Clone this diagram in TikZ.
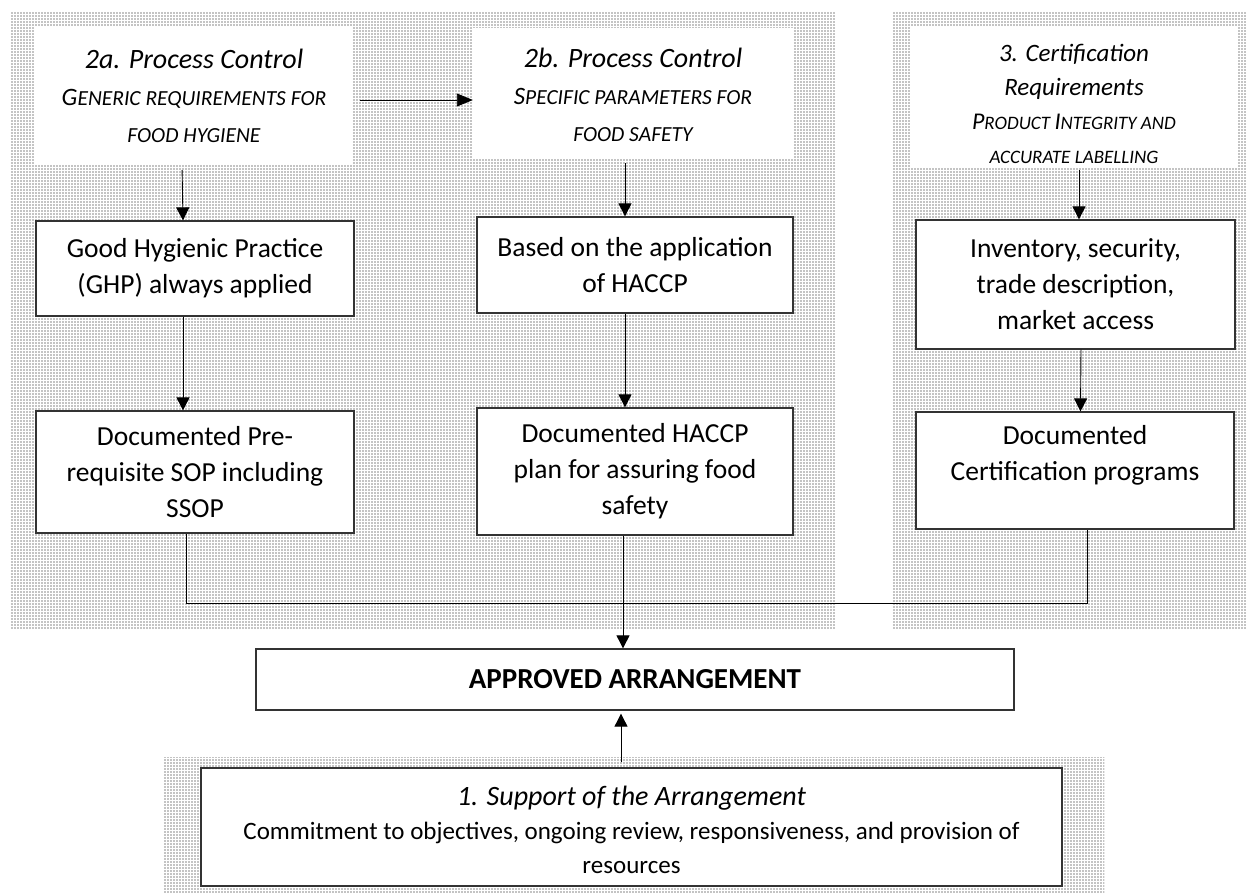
\documentclass[tikz,border=0pt]{standalone}
\usepackage{fontspec}
\setmainfont{Carlito}
\usetikzlibrary{arrows.meta,patterns.meta}
\pgfdeclarepattern{
  name=mydots, type=uncolored,
  bottom left={\pgfpoint{-1.5pt}{-1.5pt}}, top right={\pgfpoint{1.5pt}{1.5pt}},
  tile size={\pgfpoint{3pt}{3pt}},
  code={\pgfpathcircle{\pgfpointorigin}{0.65pt}\pgfusepath{fill}}
}
\newcommand{\hdA}{\fontsize{28}{37}\selectfont}
\newcommand{\scA}{\fontsize{25}{37}\selectfont}
\newcommand{\scB}{\fontsize{21.5}{37}\selectfont}
\newcommand{\hdC}{\fontsize{25}{34}\selectfont}
\newcommand{\scC}{\fontsize{24}{34}\selectfont}
\newcommand{\scD}{\fontsize{19}{34}\selectfont}
\tikzset{
  panel/.style={pattern=mydots, pattern color=black},
  hdr/.style={fill=white, inner sep=0pt, align=center, font=\itshape\hdA},
  box/.style={draw=black!80, line width=1.3pt, fill=white, inner sep=0pt, align=center,
    font=\fontsize{27.5}{36}\selectfont},
  arr/.style={-{Triangle[length=13pt,width=13pt]}, line width=0.9pt},
  bus/.style={line width=0.9pt}
}
\begin{document}
\begin{tikzpicture}[x=1pt,y=-1pt]
\useasboundingbox (0,0) rectangle (1251,895);
\fill[white] (0,0) rectangle (1251,895);
% dotted panels
\fill[panel] (10,12) rectangle (836,628);
\fill[panel] (892,12) rectangle (1246,628);
\fill[panel] (163,757) rectangle (1104,893);

% headers
\node[hdr, minimum width=318pt, minimum height=138pt] (h2a) at (194,96)
  {2a. Process Control\\{\scA G}{\scB ENERIC REQUIREMENTS FOR}\\{\scB FOOD HYGIENE}};
\node[hdr, minimum width=320pt, minimum height=130pt] (h2b) at (633,93)
  {\rule{0pt}{24pt}2b. Process Control\\{\scA S}{\scB PECIFIC PARAMETERS FOR}\\{\scB FOOD SAFETY}};
\node[hdr, minimum width=328pt, minimum height=140pt, font=\itshape\hdC] (h3) at (1074,97)
  {\rule{0pt}{31pt}3. Certification\\Requirements\\{\scC P}{\scD RODUCT }{\scC I}{\scD NTEGRITY AND}\\{\scD ACCURATE LABELLING}};

% boxes
\node[box, minimum width=318pt, minimum height=95pt] (ghp) at (195,268.5)
  {Good Hygienic Practice\\(GHP) always applied};
\node[box, minimum width=318pt, minimum height=122pt] (docpre) at (195,472)
  {Documented Pre-\\requisite SOP including\\SSOP};
\node[box, minimum width=316pt, minimum height=96pt] (haccp) at (635,265)
  {Based on the application\\of HACCP};
\node[box, minimum width=316pt, minimum height=127pt] (dochaccp) at (635,471.5)
  {Documented HACCP\\plan for assuring food\\safety};
\node[box, minimum width=319pt, minimum height=129pt] (inv) at (1075.5,284.5)
  {Inventory, security,\\trade description,\\market access};
\node[box, minimum width=318pt, minimum height=117pt] (doccert) at (1075,470.5)
  {Documented\\Certification programs\\\mbox{}};
\node[box, minimum width=758pt, minimum height=61pt,
  font=\bfseries\fontsize{29}{32}\selectfont] (appr) at (635,679.5)
  {APPROVED ARRANGEMENT};
\node[box, minimum width=861pt, minimum height=118pt,
  font=\fontsize{25}{34}\selectfont] (supp) at (631.5,827)
  {\rule{0pt}{26pt}{\itshape\fontsize{28}{34}\selectfont 1. Support of the Arrangement}\\Commitment to objectives, ongoing review, responsiveness, and provision of\\resources};

% arrows
\draw[arr, shorten <=5pt] ([xshift=-12pt]h2a.south) -- ([xshift=-12pt]ghp.north);
\draw[arr] ([xshift=-12pt]ghp.south) -- ([xshift=-12pt]docpre.north);
\draw[arr, shorten <=7pt, -{Triangle[length=16pt,width=13pt]}] ([yshift=-4pt]h2a.east) -- ([yshift=-4pt]h2a.east -| h2b.west);
\draw[arr, shorten <=5pt] ([xshift=-8pt]h2b.south) -- ([xshift=-8pt]h2b.south |- haccp.north);
\draw[arr] ([xshift=-10pt]haccp.south) -- ([xshift=-10pt]dochaccp.north);
\draw[arr] ([xshift=-12pt]dochaccp.south) -- ([xshift=-12pt]dochaccp.south |- appr.north);
\draw[arr, shorten <=3pt] ([xshift=5pt]h3.south) -- ([xshift=5pt]h3.south |- inv.north);
\draw[arr] ([xshift=5.5pt]inv.south) -- ([xshift=5.5pt]doccert.north);
\draw[arr, shorten <=5pt, shorten >=3pt] ([xshift=-10.5pt]supp.north) -- ([xshift=-10.5pt]supp.north |- appr.south);

% bus line
\coordinate (busL) at (186,603);
\coordinate (busR) at (1087,603);
\draw[bus] ([xshift=-9pt]docpre.south) -- (busL) -- (busR) -- ([xshift=12pt]doccert.south);
\end{tikzpicture}
\end{document}
